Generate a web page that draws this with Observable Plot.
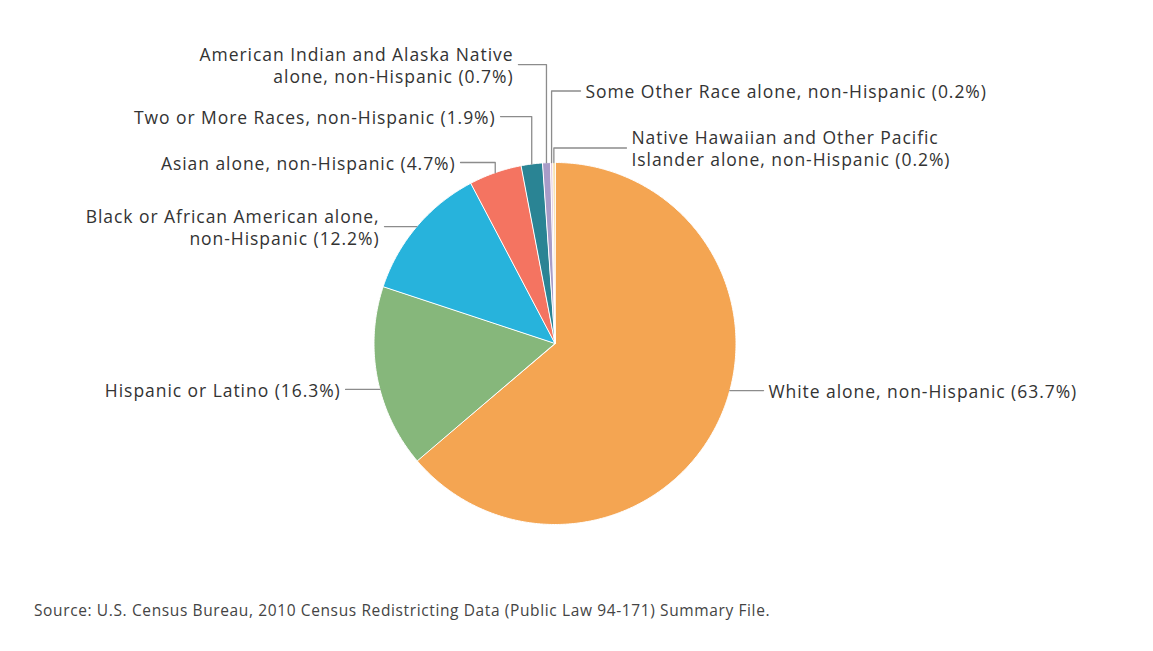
<!DOCTYPE html>
<html>
<head>
<meta charset="utf-8">
<script src="https://cdn.jsdelivr.net/npm/d3@7"></script>
<script src="https://cdn.jsdelivr.net/npm/@observablehq/plot@0.6"></script>
<style>
  html, body { margin: 0; padding: 0; background: #ffffff; }
  #chart svg { display: block; }
  #caption { font-family: "Open Sans", sans-serif; font-size: 15.5px; letter-spacing: 0.62px; color: #444; margin: 10px 0 0 34px; line-height: 20px; white-space: nowrap; }
</style>
</head>
<body>
<div id="chart"></div>
<div id="caption">Source: U.S. Census Bureau, 2010 Census Redistricting Data (Public Law 94-171) Summary File.</div>
<script>
// ---- data ----
const categories = [
  "White alone, non-Hispanic",
  "Hispanic or Latino",
  "Black or African American alone, non-Hispanic",
  "Asian alone, non-Hispanic",
  "Two or More Races, non-Hispanic",
  "American Indian and Alaska Native alone, non-Hispanic",
  "Some Other Race alone, non-Hispanic",
  "Native Hawaiian and Other Pacific Islander alone, non-Hispanic"
];
const shares = [63.7, 16.3, 12.2, 4.7, 1.9, 0.7, 0.2, 0.2];
const labelTexts = [
  "White alone, non-Hispanic (63.7%)",
  "Hispanic or Latino (16.3%)",
  "Black or African American alone,\nnon-Hispanic (12.2%)",
  "Asian alone, non-Hispanic (4.7%)",
  "Two or More Races, non-Hispanic (1.9%)",
  "American Indian and Alaska Native\nalone, non-Hispanic (0.7%)",
  "Some Other Race alone, non-Hispanic (0.2%)",
  "Native Hawaiian and Other Pacific\nIslander alone, non-Hispanic (0.2%)"
];
const colors = ["#F4A552", "#86B77B", "#27B3DC", "#F47461", "#2A8494", "#A89CC8", "#E2C6DD", "#F6DDA6"];

// ---- layout (in pie-radius units, y up) ----
const labelSide = ["right", "left", "left", "top", "top", "top", "top", "top"];
const labelY    = [-0.260, -0.254, 0.646, 1.000, 1.254, 1.541, 1.395, 1.080];
const lineEndX  = [1.152, -1.157, -0.942, -0.522, -0.301, -0.202, 0.141, 0.395];
const textGap = 0.027;

const W = 1153, H = 590, cx = 554.5, cy = 343, R = 181;

// pie polygons
const total = d3.sum(shares);
const slicePts = [];
const mids = [];
let acc = 0;
categories.forEach((name, i) => {
  const a0 = acc / total * 2 * Math.PI;
  acc += shares[i];
  const a1 = acc / total * 2 * Math.PI;
  mids.push((a0 + a1) / 2);
  slicePts.push({name, x: 0, y: 0});
  const n = Math.max(2, Math.ceil((a1 - a0) / (Math.PI / 360)));
  for (let k = 0; k <= n; k++) {
    const a = a0 + (a1 - a0) * k / n;
    slicePts.push({name, x: Math.sin(a), y: Math.cos(a)});
  }
});

// leader lines
const leaderPts = [];
categories.forEach((name, i) => {
  const y = labelY[i];
  if (labelSide[i] === "top") {
    const ex = Math.sin(mids[i]), ey = Math.cos(mids[i]);
    leaderPts.push({name, x: ex, y: ey}, {name, x: ex, y}, {name, x: lineEndX[i], y});
  } else {
    const s = labelSide[i] === "right" ? 1 : -1;
    const ex = s * Math.sqrt(Math.max(0, 1 - y * y));
    leaderPts.push({name, x: ex, y}, {name, x: lineEndX[i], y});
  }
});

const labelRows = categories.map((name, i) => {
  const rightward = labelSide[i] === "right" || lineEndX[i] > 0;
  return {name, text: labelTexts[i], y: labelY[i], x: lineEndX[i] + (rightward ? textGap : -textGap), anchor: rightward ? "start" : "end"};
});

const textStyle = {fontFamily: "Open Sans, sans-serif", fontSize: 17.5, fill: "#333", lineHeight: 1.26};

const chart = Plot.plot({
  width: W, height: H, margin: 0,
  style: {fontFamily: "Open Sans, sans-serif", background: "#fff", letterSpacing: "0.95px"},
  x: {domain: [-cx / R, (W - cx) / R], axis: null},
  y: {domain: [-(H - cy) / R, cy / R], axis: null},
  color: {domain: categories, range: colors},
  marks: [
    Plot.line(slicePts, {x: "x", y: "y", z: "name", fill: "name", stroke: "#fff", strokeWidth: 1, curve: "linear-closed"}),
    Plot.line(leaderPts, {x: "x", y: "y", z: "name", stroke: "#8c8c8c", strokeWidth: 1.3}),
    Plot.text(labelRows.filter(d => d.anchor === "start"), {x: "x", y: "y", text: "text", textAnchor: "start", ...textStyle}),
    Plot.text(labelRows.filter(d => d.anchor === "end"), {x: "x", y: "y", text: "text", textAnchor: "end", ...textStyle})
  ]
});
document.getElementById("chart").appendChild(chart);
</script>
</body>
</html>
